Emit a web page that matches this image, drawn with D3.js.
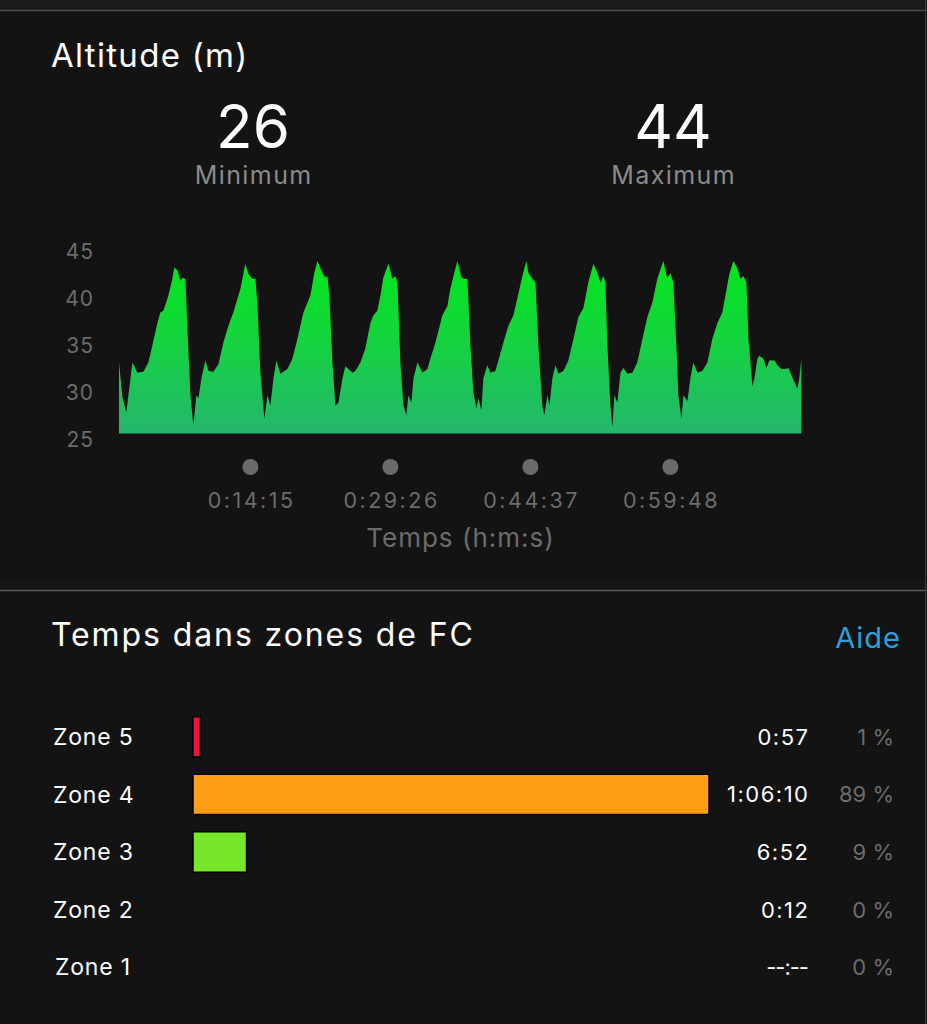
<!DOCTYPE html>
<html>
<head>
<meta charset="utf-8">
<script src="https://cdn.jsdelivr.net/npm/d3@7"></script>
<style>
  html, body { margin: 0; padding: 0; background: #131313; }
  svg { display: block; }
</style>
</head>
<body>
<svg id="chart" width="927" height="1024"></svg>
<script>
// ---------- DATA ----------
// Altitude profile: elapsed time (s) and altitude (m)
const altTime = [0, 22, 48, 87, 120, 159, 191, 217, 250, 269, 289, 321, 347, 360, 380, 400, 413, 432, 445, 465, 484, 504, 517, 536, 562, 582, 614, 647, 679, 712, 744, 790, 822, 842, 868, 888, 901, 920, 946, 966, 985, 1005, 1024, 1050, 1096, 1128, 1161, 1200, 1245, 1271, 1291, 1324, 1343, 1356, 1369, 1389, 1408, 1428, 1454, 1473, 1519, 1538, 1571, 1603, 1636, 1655, 1681, 1701, 1720, 1753, 1779, 1799, 1812, 1831, 1851, 1870, 1883, 1903, 1916, 1942, 1974, 2007, 2026, 2059, 2104, 2137, 2156, 2189, 2202, 2228, 2248, 2267, 2287, 2306, 2326, 2339, 2358, 2371, 2397, 2417, 2449, 2469, 2501, 2534, 2566, 2592, 2625, 2651, 2664, 2690, 2710, 2729, 2755, 2768, 2788, 2801, 2820, 2840, 2859, 2892, 2924, 2957, 2989, 3022, 3054, 3087, 3113, 3133, 3152, 3165, 3178, 3198, 3211, 3224, 3243, 3263, 3282, 3308, 3341, 3373, 3406, 3438, 3471, 3503, 3542, 3568, 3588, 3607, 3627, 3640, 3660, 3673, 3699, 3718, 3738, 3764, 3796, 3829, 3861, 3894, 3926, 3946, 3972, 3998, 4024, 4044, 4063, 4083, 4096, 4122, 4135, 4154, 4167, 4193, 4213, 4232, 4265, 4284, 4310, 4336, 4356, 4382, 4414, 4427, 4440];
const altValue = [33.2, 29.5, 27.9, 33.2, 32.1, 32.2, 33.2, 35.0, 37.4, 38.5, 38.7, 40.3, 42.1, 43.3, 43.0, 41.9, 42.2, 42.1, 36.8, 29.7, 26.5, 29.7, 29.4, 31.5, 33.4, 32.3, 32.2, 33.0, 35.3, 37.1, 38.5, 41.0, 43.7, 42.6, 42.1, 42.1, 39.2, 32.1, 27.2, 29.7, 28.6, 31.5, 33.4, 32.0, 32.5, 33.6, 35.7, 38.5, 40.3, 42.7, 44.0, 42.7, 42.2, 42.4, 40.3, 33.2, 28.6, 28.9, 31.5, 32.8, 32.1, 32.3, 33.2, 34.7, 37.4, 38.2, 38.7, 40.3, 42.2, 43.7, 42.1, 42.4, 41.7, 33.2, 28.6, 27.6, 29.7, 28.9, 31.5, 33.2, 32.1, 32.5, 33.6, 35.3, 38.2, 39.2, 41.0, 43.2, 44.0, 42.2, 42.1, 42.1, 35.0, 30.0, 28.3, 29.4, 28.1, 31.5, 32.9, 32.1, 32.3, 33.4, 35.3, 37.1, 38.2, 40.0, 42.4, 44.0, 42.7, 42.1, 41.7, 35.0, 28.6, 27.6, 29.7, 28.6, 31.5, 32.9, 32.0, 32.3, 33.4, 35.7, 38.0, 39.0, 41.7, 43.7, 42.7, 41.7, 42.4, 41.7, 35.0, 28.6, 26.3, 29.7, 28.9, 32.1, 32.6, 32.0, 32.1, 33.2, 35.7, 38.0, 39.6, 42.1, 44.0, 42.1, 42.7, 41.7, 35.0, 29.7, 27.2, 29.7, 29.1, 31.5, 33.2, 32.1, 32.3, 33.2, 35.7, 37.4, 38.5, 40.3, 42.6, 44.0, 43.2, 42.1, 42.4, 41.7, 35.7, 30.7, 31.5, 33.6, 33.9, 33.6, 32.6, 33.4, 33.4, 32.9, 32.5, 32.5, 32.6, 31.6, 30.4, 31.5, 33.6];
const totalSeconds = 4451;
const altFloor = 25.65;

const altMin = 26;
const altMax = 44;

const yTickValues = [25, 30, 35, 40, 45];
const xTickValues = [855, 1766, 2677, 3588];
const xTickLabels = ["0:14:15", "0:29:26", "0:44:37", "0:59:48"];

// Heart-rate zones
const zoneNames = ["Zone 5", "Zone 4", "Zone 3", "Zone 2", "Zone 1"];
const zoneSeconds = [57, 3970, 412, 12, 0];
const zoneTimeLabels = ["0:57", "1:06:10", "6:52", "0:12", "--:--"];
const zonePercents = [1, 89, 9, 0, 0];
const zoneColors = ["#e8173f", "#ff9e15", "#77e829", "#2aa1e0", "#9a9a9a"];

// ---------- DRAW ----------
const svg = d3.select("#chart");
const W = 927, H = 1024;
const FONT = "Inter, 'DejaVu Sans', sans-serif";

// background pieces
svg.append("rect").attr("x", 0).attr("y", 0).attr("width", W).attr("height", H).attr("fill", "#131313");
svg.append("rect").attr("x", 0).attr("y", 0).attr("width", W).attr("height", 10).attr("fill", "#1b1b1b");
svg.append("line").attr("x1", 0).attr("x2", W).attr("y1", 10.5).attr("y2", 10.5)
  .attr("stroke", "#4d4d4d").attr("stroke-width", 1.5);
svg.append("rect").attr("x", 0).attr("y", 580).attr("width", W).attr("height", 10).attr("fill", "#161616");
svg.append("line").attr("x1", 0).attr("x2", W).attr("y1", 590.5).attr("y2", 590.5)
  .attr("stroke", "#5a5a5a").attr("stroke-width", 1.5);
svg.append("line").attr("x1", 925.5).attr("x2", 925.5).attr("y1", 0).attr("y2", H)
  .attr("stroke", "#3c3c3c").attr("stroke-width", 1);

// ----- Altitude section -----
svg.append("text").attr("x", 51).attr("y", 67).text("Altitude (m)")
  .attr("fill", "#ffffff").attr("font-family", FONT).attr("font-size", 33)
  .attr("letter-spacing", 1.3);

const stats = [
  { v: altMin, label: "Minimum", cx: 253 },
  { v: altMax, label: "Maximum", cx: 673 }
];
stats.forEach(s => {
  svg.append("text").attr("x", s.cx).attr("y", 148).attr("text-anchor", "middle")
    .attr("fill", "#ffffff").attr("font-family", FONT).attr("font-size", 60).text(s.v);
  svg.append("text").attr("x", s.cx + 0.7).attr("y", 184).attr("text-anchor", "middle")
    .attr("fill", "#8b8b8b").attr("font-family", FONT).attr("font-size", 25)
    .attr("letter-spacing", 1.4).text(s.label);
});

const x = d3.scaleLinear().domain([0, totalSeconds]).range([119, 803]);
const y = d3.scaleLinear().domain([25, 45]).range([439.5, 251.5]);

const altData = altTime.map((t, i) => ({ t, v: altValue[i] }));

const defs = svg.append("defs");
const grad = defs.append("linearGradient").attr("id", "altGrad")
  .attr("gradientUnits", "userSpaceOnUse")
  .attr("x1", 0).attr("x2", 0).attr("y1", y(44)).attr("y2", y(altFloor));
grad.append("stop").attr("offset", "0%").attr("stop-color", "#04e61a");
grad.append("stop").attr("offset", "45%").attr("stop-color", "#14d43e");
grad.append("stop").attr("offset", "100%").attr("stop-color", "#25b66e");

const area = d3.area()
  .x(d => x(d.t))
  .y0(y(altFloor))
  .y1(d => y(d.v))
  .curve(d3.curveLinear);

svg.append("path").datum(altData).attr("d", area).attr("fill", "url(#altGrad)");

// y labels
svg.selectAll("text.ylab").data(yTickValues).join("text")
  .attr("class", "ylab")
  .attr("x", 94).attr("y", d => y(d)).attr("dy", "0.36em")
  .attr("text-anchor", "end").attr("letter-spacing", 1)
  .attr("fill", "#6c6c6c").attr("font-family", FONT).attr("font-size", 21)
  .text(d => d);

// x tick dots and labels
svg.selectAll("circle.xdot").data(xTickValues).join("circle")
  .attr("class", "xdot")
  .attr("cx", d => x(d)).attr("cy", 467).attr("r", 8)
  .attr("fill", "#6a6a6a");
svg.selectAll("text.xlab").data(xTickValues).join("text")
  .attr("class", "xlab")
  .attr("x", d => x(d) + 1.2).attr("y", 508).attr("text-anchor", "middle")
  .attr("letter-spacing", 2.5)
  .attr("fill", "#6c6c6c").attr("font-family", FONT).attr("font-size", 21.5)
  .text((d, i) => xTickLabels[i]);
svg.append("text").attr("x", 460.5).attr("y", 547).attr("text-anchor", "middle")
  .attr("letter-spacing", 1)
  .attr("fill", "#6c6c6c").attr("font-family", FONT).attr("font-size", 26)
  .text("Temps (h:m:s)");

// ----- Heart-rate zones section -----
svg.append("text").attr("x", 51).attr("y", 646).text("Temps dans zones de FC")
  .attr("fill", "#ffffff").attr("font-family", FONT).attr("font-size", 32)
  .attr("letter-spacing", 1.9);
svg.append("text").attr("x", 901).attr("y", 648).attr("text-anchor", "end").text("Aide")
  .attr("fill", "#2e9fd9").attr("font-family", FONT).attr("font-size", 29)
  .attr("letter-spacing", 1);

const band = d3.scaleBand().domain(zoneNames).range([708, 996]).paddingInner(0.3).paddingOuter(0.15);
const xb = d3.scaleLinear().domain([0, d3.max(zoneSeconds)]).range([193, 709]);

const zdata = zoneNames.map((n, i) => ({
  name: n, sec: zoneSeconds[i], lab: zoneTimeLabels[i], pct: zonePercents[i], col: zoneColors[i]
}));

const rowC = d => band(d.name) + band.bandwidth() / 2;

svg.selectAll("text.zname").data(zdata).join("text")
  .attr("class", "zname")
  .attr("x", d => d.name === "Zone 1" ? 55 : 53).attr("y", rowC).attr("dy", "0.36em")
  .attr("letter-spacing", 0.8)
  .attr("fill", "#ffffff").attr("font-family", FONT).attr("font-size", 23)
  .text(d => d.name);

svg.selectAll("rect.zbar").data(zdata.filter(d => d.pct > 0)).join("rect")
  .attr("class", "zbar")
  .attr("x", xb(0)).attr("y", d => band(d.name))
  .attr("width", d => Math.max(6, xb(d.sec) - xb(0)))
  .attr("height", band.bandwidth())
  .attr("fill", d => d.col)
  .attr("stroke", "#000000").attr("stroke-width", 1.5)
  .attr("rx", 1);

svg.selectAll("text.ztime").data(zdata).join("text")
  .attr("class", "ztime")
  .attr("x", d => d.sec > 0 ? 809.5 : 808).attr("y", rowC).attr("dy", "0.36em").attr("text-anchor", "end")
  .attr("letter-spacing", d => d.sec > 0 ? 1.5 : -1)
  .attr("fill", "#ffffff").attr("font-family", FONT).attr("font-size", 22)
  .text(d => d.lab);

svg.selectAll("text.zpct").data(zdata).join("text")
  .attr("class", "zpct")
  .attr("x", 894).attr("y", rowC).attr("dy", "0.36em").attr("text-anchor", "end")
  .attr("fill", "#6c6c6c").attr("font-family", FONT).attr("font-size", 22)
  .text(d => d.pct + " %");
</script>
</body>
</html>
